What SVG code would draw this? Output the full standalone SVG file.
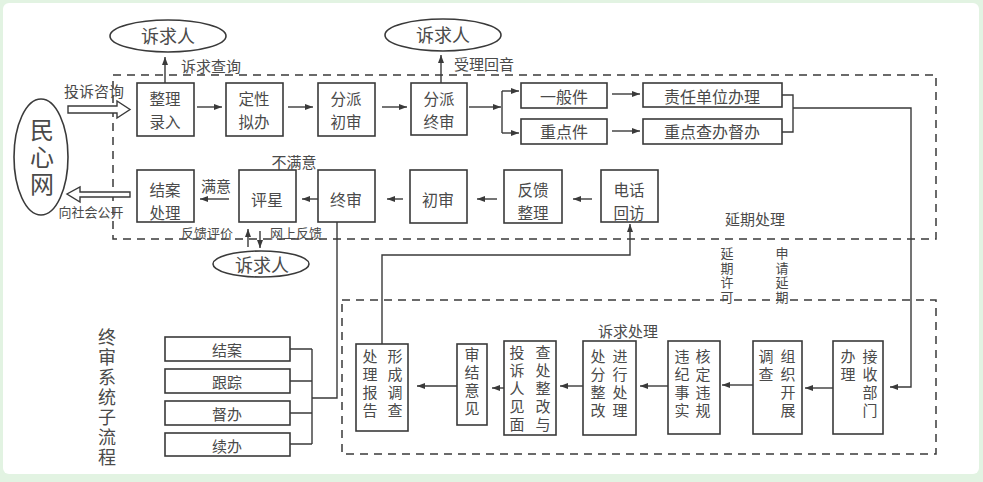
<svg xmlns="http://www.w3.org/2000/svg" width="983" height="482" viewBox="0 0 983 482">
<defs>
<style>
.t{font-family:"Noto Sans CJK SC","Liberation Sans",sans-serif;fill:#4a4a4a;text-anchor:middle;dominant-baseline:central}
.n{font-size:15.5px}
.vt{font-family:"Noto Sans CJK SC","Liberation Sans",sans-serif;fill:#4a4a4a;writing-mode:vertical-rl;text-anchor:start}
.v{font-size:15px;letter-spacing:3px}
.b{fill:#fff;stroke:#3a3a3a;stroke-width:1.6}
.l{fill:none;stroke:#3a3a3a;stroke-width:1.4}
.a{fill:none;stroke:#3a3a3a;stroke-width:1.4;marker-end:url(#ah)}
.d{fill:none;stroke:#3a3a3a;stroke-width:1.5;stroke-dasharray:8 6}
.h{fill:#fff;stroke:#3a3a3a;stroke-width:1.4}
</style>
<marker id="ah" markerWidth="9" markerHeight="6" refX="8" refY="3" orient="auto" markerUnits="userSpaceOnUse">
<path d="M0,0 L8,3 L0,6 z" fill="#3a3a3a"/>
</marker>
</defs>
<rect x="0" y="0" width="983" height="482" fill="#e2f3e2"/>
<rect x="3" y="3" width="976" height="471" rx="6" fill="#fff"/>

<g id="regions">
<rect class="d" x="113" y="75" width="823" height="164"/>
<rect class="d" x="342" y="300" width="594" height="154"/>
</g>

<g id="connectors">
<path class="h" d="M68,106 H117 V101 L130,109.5 L117,118 V113 H68 Z"/>
<path class="h" d="M130,192 H80 V187 L67,194 L80,202 V197 H130 Z"/>
<path class="a" d="M165,83 V57"/>
<path class="a" d="M441,83 V55"/>
<path class="a" d="M197,107 H222"/>
<path class="a" d="M288,107 H313"/>
<path class="a" d="M382,107 H407"/>
<path class="a" d="M469,107 H501"/>
<path class="l" d="M502,91 V133"/>
<path class="a" d="M502,91 H519"/>
<path class="a" d="M502,133 H519"/>
<path class="a" d="M612,94 H640"/>
<path class="a" d="M612,131 H640"/>
<path class="l" d="M782,95 H793 V132 H782"/>
<path class="a" d="M793,108 H911 V387 H890"/>
<path class="a" d="M229,199 H200"/>
<path class="a" d="M318,199 H302"/>
<path class="a" d="M403,199 H387"/>
<path class="a" d="M497,199 H477"/>
<path class="a" d="M592,199 H573"/>
<path class="a" d="M248,247 V229"/>
<path class="a" d="M260,231 V248"/>
<path class="l" d="M337,222 V398 H312"/>
<path class="l" d="M290,349 H312 M290,381 H312 M290,413 H312 M290,444 H312 M312,349 V444"/>
<path class="a" d="M382,344 V255 H630 V224"/>
<path class="a" d="M833,388 H805"/>
<path class="a" d="M753,385 H722"/>
<path class="a" d="M668,386 H640"/>
<path class="a" d="M583,386 H560"/>
<path class="a" d="M504,388 H492"/>
<path class="a" d="M457,386 H417"/>
</g>

<g id="labels">
<text class="t" x="94" y="90" font-size="15">投诉咨询</text>
<text class="t" x="211" y="65" font-size="15">诉求查询</text>
<text class="t" x="484" y="63" font-size="15">受理回音</text>
<text class="t" x="91" y="211" font-size="13">向社会公开</text>
<text class="t" x="216" y="185" font-size="15">满意</text>
<text class="t" x="294" y="161" font-size="15">不满意</text>
<text class="t" x="207" y="232" font-size="13">反馈评价</text>
<text class="t" x="296" y="232" font-size="13">网上反馈</text>
<text class="t" x="755" y="218" font-size="15">延期处理</text>
<text class="vt" x="727" y="246.5" font-size="13" letter-spacing="1.7">延期许可</text>
<text class="vt" x="782" y="246.5" font-size="13" letter-spacing="1.7">申请延期</text>
<text class="t" x="628" y="330" font-size="15">诉求处理</text>
<text class="vt" x="107" y="328" font-size="18" letter-spacing="2">终审系统子流程</text>
</g>

<g id="minxinwang">
<ellipse class="b" cx="41" cy="157" rx="27" ry="58"/>
<text class="vt" x="42" y="118" font-size="24" letter-spacing="3">民心网</text>
</g>
<g id="suqiuren1">
<ellipse class="b" cx="168" cy="36" rx="58" ry="16"/>
<text class="t" x="168" y="35" font-size="18">诉求人</text>
</g>
<g id="suqiuren2">
<ellipse class="b" cx="443" cy="35" rx="58" ry="16"/>
<text class="t" x="443" y="34" font-size="18">诉求人</text>
</g>
<g id="suqiuren3">
<ellipse class="b" cx="261" cy="264" rx="48" ry="13"/>
<text class="t" x="262" y="264" font-size="18">诉求人</text>
</g>

<g id="zhengliluru">
<rect class="b" x="137" y="83" width="57" height="53"/>
<text class="t n" x="165" y="98">整理</text>
<text class="t n" x="165" y="121">录入</text>
</g>
<g id="dingxingniban">
<rect class="b" x="226" y="83" width="57" height="53"/>
<text class="t n" x="254" y="98">定性</text>
<text class="t n" x="254" y="121">拟办</text>
</g>
<g id="fenpaichushen">
<rect class="b" x="318" y="83" width="57" height="53"/>
<text class="t n" x="346" y="98">分派</text>
<text class="t n" x="346" y="121">初审</text>
</g>
<g id="fenpaizhongshen">
<rect class="b" x="411" y="83" width="56" height="52"/>
<text class="t n" x="439" y="98">分派</text>
<text class="t n" x="439" y="121">终审</text>
</g>
<g id="yibanjian">
<rect class="b" x="521" y="83" width="86" height="25"/>
<text class="t" x="564" y="96" font-size="16">一般件</text>
</g>
<g id="zhongdianjian">
<rect class="b" x="521" y="119" width="86" height="25"/>
<text class="t" x="564" y="131" font-size="16">重点件</text>
</g>
<g id="zerendanwei">
<rect class="b" x="643" y="83" width="139" height="24"/>
<text class="t" x="712" y="96" font-size="16">责任单位办理</text>
</g>
<g id="zhongdianchaban">
<rect class="b" x="643" y="119" width="139" height="25"/>
<text class="t" x="712" y="131" font-size="16">重点查办督办</text>
</g>

<g id="jieanchuli">
<rect class="b" x="137" y="170" width="57" height="52"/>
<text class="t n" x="165" y="189">结案</text>
<text class="t n" x="165" y="212">处理</text>
</g>
<g id="pingxing">
<rect class="b" x="239" y="170" width="57" height="52"/>
<text class="t" x="267" y="199" font-size="16">评星</text>
</g>
<g id="zhongshen">
<rect class="b" x="318" y="170" width="57" height="52"/>
<text class="t" x="346" y="199" font-size="16">终审</text>
</g>
<g id="chushen">
<rect class="b" x="410" y="170" width="57" height="53"/>
<text class="t" x="438" y="199" font-size="16">初审</text>
</g>
<g id="fankuizhengli">
<rect class="b" x="504" y="170" width="58" height="53"/>
<text class="t n" x="533" y="189">反馈</text>
<text class="t n" x="533" y="212">整理</text>
</g>
<g id="dianhuahuifang">
<rect class="b" x="601" y="170" width="57" height="52"/>
<text class="t n" x="629" y="189">电话</text>
<text class="t n" x="629" y="212">回访</text>
</g>

<g id="jiean">
<rect class="b" x="165" y="337" width="125" height="24"/>
<text class="t" x="227" y="349" font-size="15">结案</text>
</g>
<g id="genzong">
<rect class="b" x="165" y="369" width="125" height="24"/>
<text class="t" x="227" y="381" font-size="15">跟踪</text>
</g>
<g id="duban">
<rect class="b" x="165" y="401" width="125" height="24"/>
<text class="t" x="227" y="413" font-size="15">督办</text>
</g>
<g id="xuban">
<rect class="b" x="165" y="433" width="125" height="23"/>
<text class="t" x="227" y="445" font-size="15">续办</text>
</g>

<g id="jieshoubumen">
<rect class="b" x="833" y="341" width="50" height="93"/>
<text class="vt v" x="870" y="348.5">接收部门</text>
<text class="vt v" x="848" y="348.5">办理</text>
</g>
<g id="zuzhikaizhan">
<rect class="b" x="753" y="341" width="49" height="93"/>
<text class="vt v" x="788" y="348.5">组织开展</text>
<text class="vt v" x="766" y="348.5">调查</text>
</g>
<g id="hedingweigui">
<rect class="b" x="668" y="341" width="52" height="93"/>
<text class="vt v" x="703" y="348.5">核定违规</text>
<text class="vt v" x="682" y="348.5">违纪事实</text>
</g>
<g id="jinxingchuli">
<rect class="b" x="583" y="341" width="53" height="94"/>
<text class="vt v" x="620" y="348.5">进行处理</text>
<text class="vt v" x="598" y="348.5">处分整改</text>
</g>
<g id="chachuzhenggai">
<rect class="b" x="504" y="341" width="52" height="94"/>
<text class="vt v" x="543" y="344.5">查处整改与</text>
<text class="vt v" x="517" y="344.5">投诉人见面</text>
</g>
<g id="shenjieyijian">
<rect class="b" x="457" y="344" width="30" height="81"/>
<text class="vt v" x="472" y="346.5" letter-spacing="4">审结意见</text>
</g>
<g id="xingchengdiaocha">
<rect class="b" x="356" y="344" width="52" height="87"/>
<text class="vt v" x="395" y="348.5">形成调查</text>
<text class="vt v" x="370" y="348.5">处理报告</text>
</g>
</svg>
